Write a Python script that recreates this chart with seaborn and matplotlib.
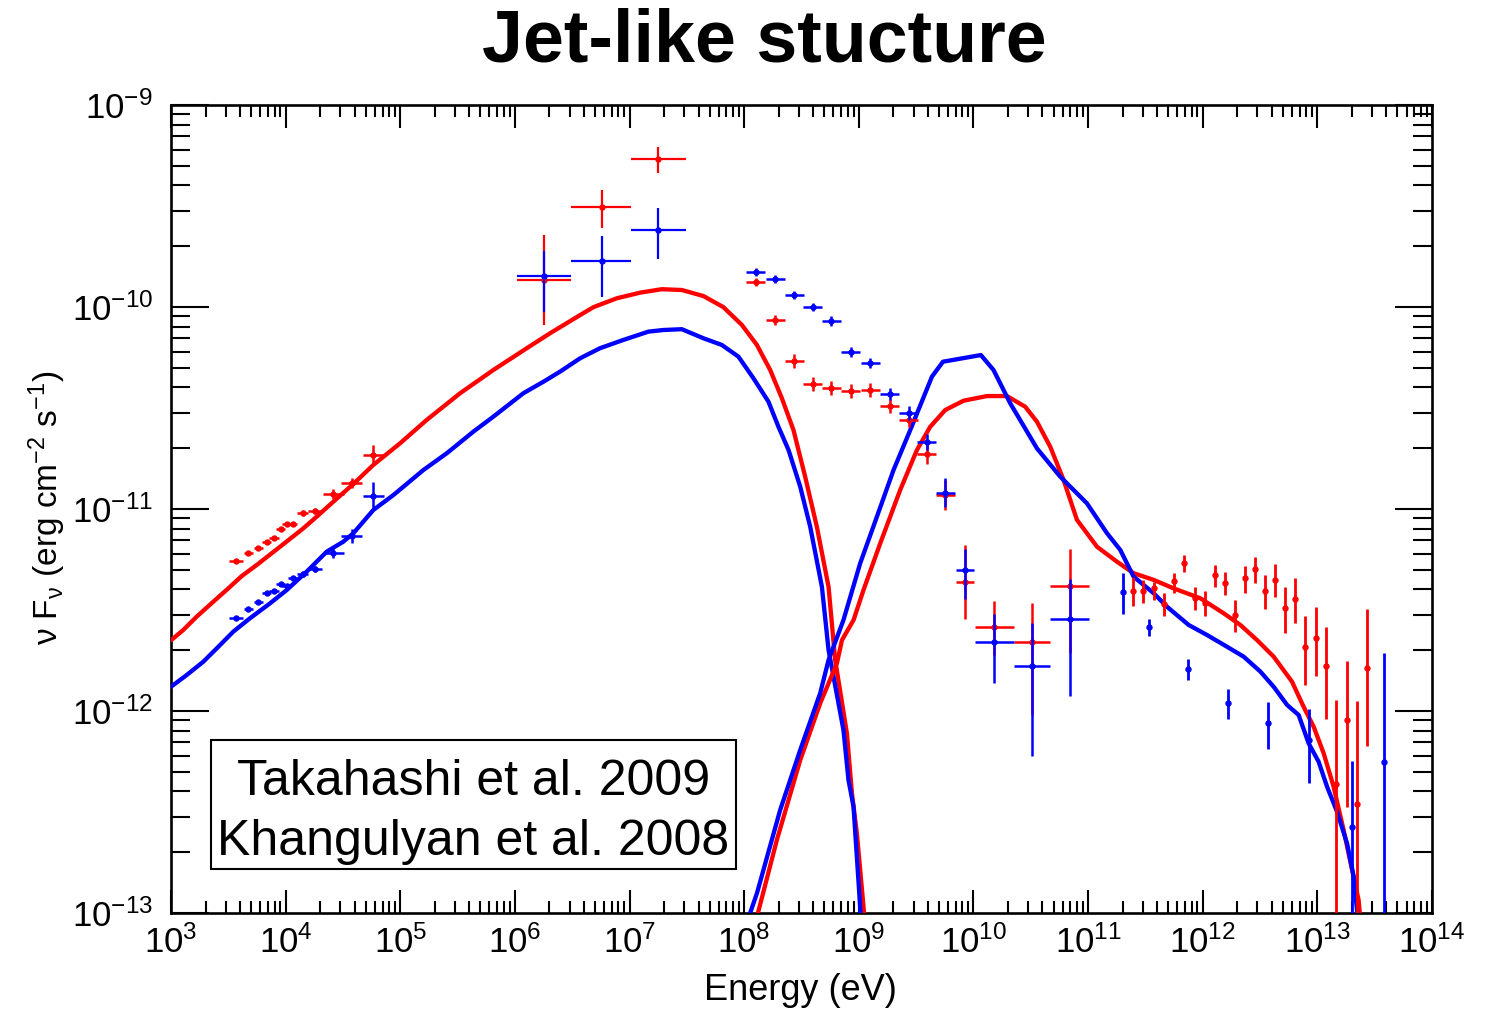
import numpy as np
import pandas as pd
import matplotlib
matplotlib.use("Agg")
import matplotlib.pyplot as plt
import matplotlib.ticker as mticker
from matplotlib.patches import Rectangle
import seaborn as sns

# ---------------- model curves: log10 E [eV], log10 nuFnu [erg cm^-2 s^-1] ----------------
sync_red_logE = [3.0, 3.107, 3.224, 3.369, 3.500, 3.617, 3.748, 3.951, 4.154, 4.271, 4.416, 4.591,
                 4.765, 4.998, 5.231, 5.522, 5.812, 6.104, 6.307, 6.569, 6.685, 6.889, 7.093, 7.282,
                 7.456, 7.645, 7.819, 7.980, 8.111, 8.227, 8.329, 8.430, 8.532, 8.634, 8.736, 8.794,
                 8.896, 8.940, 8.983, 9.041, 9.06]
sync_red_logF = [-11.65, -11.599, -11.533, -11.459, -11.393, -11.332, -11.277, -11.187, -11.096,
                 -11.038, -10.964, -10.876, -10.782, -10.675, -10.559, -10.427, -10.312, -10.204,
                 -10.130, -10.040, -10.001, -9.957, -9.929, -9.912, -9.916, -9.946, -10.001, -10.089,
                 -10.188, -10.312, -10.452, -10.609, -10.840, -11.088, -11.385, -11.748, -12.110,
                 -12.407, -12.605, -12.969, -13.10]

sync_blue_logE = [3.0, 3.137, 3.282, 3.413, 3.544, 3.689, 3.864, 4.010, 4.184, 4.359, 4.503, 4.591,
                  4.765, 4.940, 5.202, 5.406, 5.638, 5.812, 6.074, 6.249, 6.394, 6.569, 6.743, 6.947,
                  7.165, 7.296, 7.456, 7.645, 7.805, 7.950, 8.081, 8.212, 8.299, 8.387, 8.489, 8.576,
                  8.678, 8.736, 8.866, 8.910, 8.954, 9.006, 9.02]
sync_blue_logF = [-11.88, -11.822, -11.756, -11.682, -11.607, -11.541, -11.467, -11.401, -11.310,
                  -11.211, -11.162, -11.120, -11.005, -10.931, -10.807, -10.724, -10.617, -10.543,
                  -10.427, -10.370, -10.320, -10.254, -10.204, -10.163, -10.122, -10.114, -10.110,
                  -10.155, -10.188, -10.246, -10.353, -10.469, -10.593, -10.708, -10.890, -11.088,
                  -11.385, -11.698, -12.094, -12.342, -12.474, -12.919, -13.05]

ic_blue_logE = [8.04, 8.111, 8.314, 8.489, 8.663, 8.736, 8.866, 9.012, 9.158, 9.303, 9.449, 9.638,
                9.734, 10.065, 10.175, 10.321, 10.554, 10.757, 10.990, 11.165, 11.281, 11.397,
                11.572, 11.689, 11.877, 12.038, 12.212, 12.357, 12.503, 12.619, 12.736, 12.837,
                12.924, 13.011, 13.085, 13.172, 13.259, 13.317, 13.346, 13.36]
ic_blue_logF = [-13.02, -12.903, -12.490, -12.193, -11.912, -11.748, -11.550, -11.269, -11.038,
                -10.807, -10.609, -10.345, -10.271, -10.238, -10.312, -10.477, -10.700, -10.840,
                -10.972, -11.120, -11.203, -11.335, -11.417, -11.484, -11.574, -11.624, -11.682,
                -11.731, -11.805, -11.880, -11.970, -12.020, -12.160, -12.251, -12.375, -12.499,
                -12.655, -12.820, -12.985, -13.10]

ic_red_logE = [8.12, 8.285, 8.489, 8.663, 8.809, 8.853, 8.954, 9.041, 9.187, 9.361, 9.507, 9.623,
               9.754, 9.914, 10.118, 10.292, 10.452, 10.554, 10.670, 10.786, 10.903, 11.078, 11.252,
               11.397, 11.572, 11.746, 11.979, 12.182, 12.328, 12.474, 12.619, 12.779, 12.880,
               12.968, 13.055, 13.142, 13.229, 13.303, 13.360, 13.37]
ic_red_logF = [-13.0, -12.639, -12.243, -11.962, -11.764, -11.649, -11.550, -11.401, -11.170,
               -10.906, -10.708, -10.593, -10.510, -10.464, -10.441, -10.441, -10.494, -10.568,
               -10.692, -10.856, -11.054, -11.187, -11.261, -11.318, -11.351, -11.393, -11.442,
               -11.516, -11.574, -11.649, -11.731, -11.855, -11.979, -12.078, -12.209, -12.375,
               -12.589, -12.787, -12.936, -13.0]

# ---------------- X-ray spectrum ----------------
xray_logE = [3.567, 3.675, 3.762, 3.835, 3.899, 3.957, 4.010, 4.062, 4.149, 4.257, 4.416, 4.577, 4.765]
xray_dlogE = [0.06, 0.04, 0.04, 0.04, 0.04, 0.04, 0.04, 0.04, 0.05, 0.06, 0.09, 0.09, 0.09]
xray_red_logF = [-11.259, -11.218, -11.195, -11.162, -11.145, -11.099, -11.076, -11.076, -11.018,
                 -11.010, -10.926, -10.870, -10.733]
xray_red_dlogF = [0.01, 0.01, 0.01, 0.01, 0.01, 0.01, 0.01, 0.01, 0.015, 0.015, 0.025, 0.025, 0.05]
xray_blue_logF = [-11.540, -11.494, -11.462, -11.417, -11.404, -11.371, -11.380, -11.340, -11.323,
                  -11.299, -11.219, -11.132, -10.936]
xray_blue_dlogF = [0.01, 0.01, 0.01, 0.01, 0.01, 0.01, 0.01, 0.01, 0.015, 0.015, 0.025, 0.035, 0.068]

# ---------------- MeV band ----------------
mev_logE = [6.255, 6.758, 7.252]
mev_logE_lo = [6.022, 6.490, 7.014]
mev_logE_hi = [6.490, 7.014, 7.491]
mev_red_logF = [-9.868, -9.505, -9.269]
mev_red_lo = [-10.089, -9.607, -9.338]
mev_red_hi = [-9.646, -9.422, -9.209]
mev_blue_logF = [-9.845, -9.772, -9.619]
mev_blue_lo = [-10.023, -9.949, -9.763]
mev_blue_hi = [-9.723, -9.649, -9.511]

# ---------------- GeV band ----------------
gev_logE = [8.102, 8.271, 8.436, 8.600, 8.759, 8.931, 9.100, 9.268, 9.434, 9.594, 9.754, 9.926,
            10.181, 10.510, 10.842]
gev_dlogE = [0.083, 0.083, 0.083, 0.083, 0.083, 0.083, 0.083, 0.083, 0.083, 0.083, 0.083, 0.08,
             0.17, 0.16, 0.17]
gev_blue_logF = [-9.827, -9.863, -9.942, -10.002, -10.069, -10.224, -10.276, -10.431, -10.523,
                 -10.668, -10.919, -11.304, -11.660, -11.779, -11.545]
gev_blue_lo = [-9.847, -9.883, -9.962, -10.022, -10.092, -10.249, -10.301, -10.461, -10.558,
               -10.708, -10.989, -11.445, -11.863, -12.223, -11.924]
gev_blue_hi = [-9.807, -9.843, -9.922, -9.982, -10.046, -10.199, -10.251, -10.401, -10.488,
               -10.628, -10.849, -11.200, -11.520, -11.566, -11.347]
gev_red_logF = [-9.878, -10.063, -10.266, -10.381, -10.400, -10.416, -10.411, -10.489, -10.561,
                -10.728, -10.931, -11.361, -11.584, -11.660, -11.381]
gev_red_lo = [-9.898, -10.088, -10.301, -10.416, -10.435, -10.451, -10.446, -10.524, -10.596,
              -10.778, -11.006, -11.545, -11.723, -12.020, -11.711]
gev_red_hi = [-9.858, -10.038, -10.231, -10.346, -10.365, -10.381, -10.376, -10.454, -10.526,
              -10.678, -10.856, -11.180, -11.455, -11.467, -11.197]

# ---------------- TeV band ----------------
tev_red_logE = [11.392, 11.479, 11.572, 11.659, 11.750, 11.839, 11.929, 12.017, 12.104, 12.195,
                12.282, 12.372, 12.459, 12.546, 12.634, 12.721, 12.808, 12.895, 12.985, 13.076,
                13.163, 13.256, 13.343, 13.430]
tev_red_logF = [-11.404, -11.404, -11.393, -11.470, -11.358, -11.269, -11.442, -11.464, -11.328,
                -11.365, -11.525, -11.343, -11.299, -11.406, -11.351, -11.492, -11.446, -11.682,
                -11.637, -11.777, -12.361, -12.046, -12.462, -11.786]
tev_red_lo = [-11.479, -11.467, -11.450, -11.530, -11.417, -11.310, -11.500, -11.530, -11.385,
              -11.426, -11.607, -11.414, -11.368, -11.497, -11.437, -11.612, -11.563, -11.871,
              -11.827, -12.041, -14.0, -12.474, -14.0, -12.173]
tev_red_hi = [-11.335, -11.351, -11.360, -11.414, -11.315, -11.228, -11.388, -11.406, -11.277,
              -11.310, -11.450, -11.282, -11.236, -11.327, -11.272, -11.385, -11.343, -11.530,
              -11.484, -11.586, -11.946, -11.752, -11.950, -11.497]
tev_blue_logE = [11.301, 11.528, 11.868, 12.217, 12.570, 12.928, 13.300, 13.582]
tev_blue_logF = [-11.412, -11.586, -11.792, -11.962, -12.061, -12.144, -12.573, -12.254]
tev_blue_lo = [-11.520, -11.627, -11.847, -12.041, -12.190, -12.358, -14.0, -14.0]
tev_blue_hi = [-11.318, -11.546, -11.743, -11.893, -11.957, -11.990, -12.246, -11.711]

# axis decades
x_decades = list(range(3, 15))
y_decades = list(range(-13, -8))

RED = "#ff0000"
BLUE = "#0000ff"

sns.set_theme(style="ticks")
plt.rcParams["font.family"] = ["Liberation Sans", "DejaVu Sans"]
plt.rcParams["mathtext.fontset"] = "custom"
plt.rcParams["mathtext.rm"] = "Liberation Sans"
plt.rcParams["mathtext.it"] = "Liberation Sans"
plt.rcParams["mathtext.default"] = "regular"
for key in ["text.color", "axes.labelcolor", "xtick.color", "ytick.color", "axes.edgecolor"]:
    plt.rcParams[key] = "black"

fig = plt.figure(figsize=(14.87, 10.24), dpi=100)
ax = fig.add_axes([0.1150, 0.1084, 0.8480, 0.7891])
ax.set_xscale("log")
ax.set_yscale("log")

p = lambda v: np.power(10.0, np.asarray(v, dtype=float))

curves = pd.concat([
    pd.DataFrame({"E": p(sync_red_logE), "F": p(sync_red_logF), "curve": "sync_red"}),
    pd.DataFrame({"E": p(sync_blue_logE), "F": p(sync_blue_logF), "curve": "sync_blue"}),
    pd.DataFrame({"E": p(ic_red_logE), "F": p(ic_red_logF), "curve": "ic_red"}),
    pd.DataFrame({"E": p(ic_blue_logE), "F": p(ic_blue_logF), "curve": "ic_blue"}),
], ignore_index=True)

for name, col in [("sync_red", RED), ("sync_blue", BLUE), ("ic_red", RED), ("ic_blue", BLUE)]:
    sub = curves[curves["curve"] == name]
    sns.lineplot(data=sub, x="E", y="F", ax=ax, color=col, lw=3.1, sort=False,
                 estimator=None, legend=False, zorder=3)


def points(logE, logF, logE_lo, logE_hi, logF_lo, logF_hi, color, ms, elw, z):
    E, F = p(logE), p(logF)
    xerr = [E - p(logE_lo), p(logE_hi) - E] if logE_lo is not None else None
    yerr = [F - p(logF_lo), p(logF_hi) - F]
    ax.errorbar(E, F, xerr=xerr, yerr=yerr, fmt="o", color=color, ms=ms, mew=0,
                elinewidth=elw, capsize=0, zorder=z)


def sym(vals, d, sign):
    return [v + sign * e for v, e in zip(vals, d)]


# red data first, blue on top
points(xray_logE, xray_red_logF, sym(xray_logE, xray_dlogE, -1), sym(xray_logE, xray_dlogE, 1),
       sym(xray_red_logF, xray_red_dlogF, -1), sym(xray_red_logF, xray_red_dlogF, 1), RED, 4.6, 1.8, 4)
points(mev_logE, mev_red_logF, mev_logE_lo, mev_logE_hi, mev_red_lo, mev_red_hi, RED, 4.6, 1.6, 4)
points(gev_logE, gev_red_logF, sym(gev_logE, gev_dlogE, -1), sym(gev_logE, gev_dlogE, 1),
       gev_red_lo, gev_red_hi, RED, 4.6, 1.8, 4)
points(tev_red_logE, tev_red_logF, None, None, tev_red_lo, tev_red_hi, RED, 4.6, 2.0, 4)

points(xray_logE, xray_blue_logF, sym(xray_logE, xray_dlogE, -1), sym(xray_logE, xray_dlogE, 1),
       sym(xray_blue_logF, xray_blue_dlogF, -1), sym(xray_blue_logF, xray_blue_dlogF, 1), BLUE, 4.6, 1.8, 5)
points(mev_logE, mev_blue_logF, mev_logE_lo, mev_logE_hi, mev_blue_lo, mev_blue_hi, BLUE, 4.6, 1.6, 5)
points(gev_logE, gev_blue_logF, sym(gev_logE, gev_dlogE, -1), sym(gev_logE, gev_dlogE, 1),
       gev_blue_lo, gev_blue_hi, BLUE, 4.6, 1.8, 5)
points(tev_blue_logE, tev_blue_logF, None, None, tev_blue_lo, tev_blue_hi, BLUE, 4.6, 2.0, 5)

ax.set_xlim(1e3, 1e14)
ax.set_ylim(1e-13, 1e-9)

# ticks only inside the plotted range
x_major = [10.0 ** d for d in x_decades]
y_major = [10.0 ** d for d in y_decades]
x_minor = [m * 10.0 ** d for d in x_decades[:-1] for m in range(2, 10)]
y_minor = [m * 10.0 ** d for d in y_decades[:-1] for m in range(2, 10)]
ax.xaxis.set_major_locator(mticker.FixedLocator(x_major))
ax.yaxis.set_major_locator(mticker.FixedLocator(y_major))
ax.xaxis.set_minor_locator(mticker.FixedLocator(x_minor))
ax.yaxis.set_minor_locator(mticker.FixedLocator(y_minor))
ax.xaxis.set_major_formatter(mticker.LogFormatterSciNotation())
ax.yaxis.set_major_formatter(mticker.LogFormatterSciNotation())
ax.xaxis.set_minor_formatter(mticker.NullFormatter())
ax.yaxis.set_minor_formatter(mticker.NullFormatter())

ax.tick_params(which="both", direction="in", top=True, right=True, color="black", width=1.5,
               labelsize=25, labelcolor="black")
ax.tick_params(axis="x", which="major", length=16.5, pad=9)
ax.tick_params(axis="x", which="minor", length=8.5)
ax.tick_params(axis="y", which="major", length=27, pad=13)
ax.tick_params(axis="y", which="minor", length=13.5)
for s in ax.spines.values():
    s.set_linewidth(1.9)
    s.set_color("black")
ax.set_xlabel("")
ax.set_ylabel("")

fig.text(0.538, 0.033, "Energy (eV)", ha="center", va="center", fontsize=26, color="black")
fig.text(0.032, 0.504, "ν $F_{ν}$ (erg $cm^{-2}$ $s^{-1}$)", ha="center", va="center",
         rotation=90, fontsize=24, color="black")
fig.text(0.514, 0.959, "Jet-like stucture", ha="center", va="center", fontsize=53,
         fontweight="bold", color="black")

ax.add_patch(Rectangle((0.0317, 0.0545), 0.4163, 0.1597, transform=ax.transAxes,
                       facecolor="white", edgecolor="black", lw=1.5, zorder=6))
ax.text(0.2399, 0.146, "Takahashi et al. 2009", transform=ax.transAxes, ha="center",
        va="baseline", fontsize=36, zorder=7, color="black")
ax.text(0.2399, 0.0718, "Khangulyan et al. 2008", transform=ax.transAxes, ha="center",
        va="baseline", fontsize=36, zorder=7, color="black")

fig.savefig("out.png", dpi=100)
